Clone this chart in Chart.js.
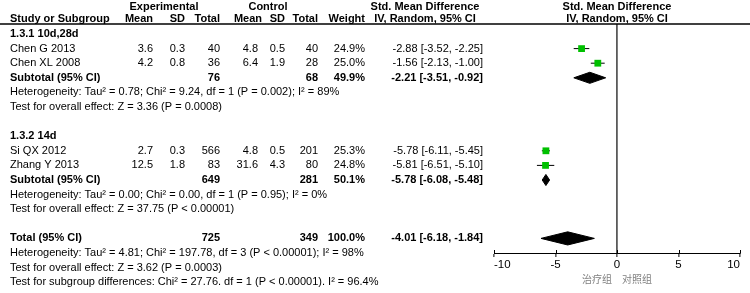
<!DOCTYPE html>
<html>
<head>
<meta charset="utf-8">
<script src="https://cdn.jsdelivr.net/npm/chart.js@4/dist/chart.umd.min.js"></script>
<style>
html, body { margin: 0; padding: 0; background: #fff; }
</style>
</head>
<body>
<canvas id="chart" width="750" height="293"></canvas>
<script>
// individual studies
var studyNames = [ 'Chen G 2013', 'Chen XL 2008', 'Si QX 2012', 'Zhang Y 2013' ];
var studyRows  = [ 1, 2, 8, 9 ];
var expMean    = [ 3.6, 4.2, 2.7, 12.5 ];
var expSD      = [ 0.3, 0.8, 0.3, 1.8 ];
var expN       = [ 40, 36, 566, 83 ];
var ctlMean    = [ 4.8, 6.4, 4.8, 31.6 ];
var ctlSD      = [ 0.5, 1.9, 0.5, 4.3 ];
var ctlN       = [ 40, 28, 201, 80 ];
var weights    = [ 24.9, 25.0, 25.3, 24.8 ];
var smd        = [ -2.88, -1.56, -5.78, -5.81 ];
var smdLo      = [ -3.52, -2.13, -6.11, -6.51 ];
var smdHi      = [ -2.25, -1.00, -5.45, -5.10 ];

// subgroup headings
var groupNames = [ '1.3.1 10d,28d', '1.3.2 14d' ];
var groupRows  = [ 0, 7 ];

// subtotals + total (last entry)
var poolNames   = [ 'Subtotal (95% CI)', 'Subtotal (95% CI)', 'Total (95% CI)' ];
var poolRows    = [ 3, 10, 14 ];
var poolExpN    = [ 76, 649, 725 ];
var poolCtlN    = [ 68, 281, 349 ];
var poolWeights = [ 49.9, 50.1, 100.0 ];
var poolSmd     = [ -2.21, -5.78, -4.01 ];
var poolLo      = [ -3.51, -6.08, -6.18 ];
var poolHi      = [ -0.92, -5.48, -1.84 ];

// footnote lines
var noteRows = [ 4, 5, 11, 12, 15, 16, 17 ];
var noteText = [
    'Heterogeneity: Tau\u00b2 = 0.78; Chi\u00b2 = 9.24, df = 1 (P = 0.002); I\u00b2 = 89%',
    'Test for overall effect: Z = 3.36 (P = 0.0008)',
    'Heterogeneity: Tau\u00b2 = 0.00; Chi\u00b2 = 0.00, df = 1 (P = 0.95); I\u00b2 = 0%',
    'Test for overall effect: Z = 37.75 (P < 0.00001)',
    'Heterogeneity: Tau\u00b2 = 4.81; Chi\u00b2 = 197.78, df = 3 (P < 0.00001); I\u00b2 = 98%',
    'Test for overall effect: Z = 3.62 (P = 0.0003)',
    'Test for subgroup differences: Chi\u00b2 = 27.76. df = 1 (P < 0.00001). I\u00b2 = 96.4%'
];

var xTicks  = [ -10, -5, 0, 5, 10 ];
var xTitle  = '\u6cbb\u7597\u7ec4\u3000\u5bf9\u7167\u7ec4';

var FONT = '"Liberation Sans", Arial, sans-serif';
Chart.defaults.font.family = FONT;

var datasets = [];

// squares first so they sit on top of the whiskers
datasets.push({
    data            : studyRows.map( function( r, i ) { return { x: smd[ i ], y: r }; } ),
    pointStyle      : 'rect',
    pointRadius     : 4.8,
    backgroundColor : '#00c000',
    borderColor     : '#00c000',
    borderWidth     : 0
});

studyRows.forEach( function( r, i ) {
    datasets.push({
        data        : [ { x: smdLo[ i ], y: r }, { x: smdHi[ i ], y: r } ],
        showLine    : true,
        borderColor : '#000',
        borderWidth : 1,
        pointRadius : 0
    });
});

poolRows.forEach( function( r, i ) {
    var h = i == poolRows.length - 1 ? 0.45 : 0.38;
    datasets.push({
        data            : [ { x: poolLo[ i ], y: r }, { x: poolSmd[ i ], y: r - h },
                            { x: poolHi[ i ], y: r }, { x: poolSmd[ i ], y: r + h },
                            { x: poolLo[ i ], y: r } ],
        showLine        : true,
        fill            : 'shape',
        tension         : 0,
        borderColor     : '#000',
        backgroundColor : '#000',
        borderWidth     : 1,
        pointRadius     : 0
    });
});

function fmtCI( m, lo, hi ) {
    return m.toFixed( 2 ) + ' [' + lo.toFixed( 2 ) + ', ' + hi.toFixed( 2 ) + ']';
}

var tablePlugin = {
    id: 'table',
    afterDraw: function( chart ) {
        var ctx = chart.ctx;
        var xs = chart.scales.x;
        var ys = chart.scales.y;
        var zeroX = xs.getPixelForValue( 0 );
        function txt( s, x, y, align, bold ) {
            ctx.font = ( bold ? 'bold ' : '' ) + '11px ' + FONT;
            ctx.textAlign = align;
            ctx.textBaseline = 'middle';
            ctx.fillStyle = '#000';
            ctx.fillText( s, x, y );
        }
        ctx.save();

        // header
        txt( 'Experimental', 164, 7, 'center', true );
        txt( 'Control', 268, 7, 'center', true );
        txt( 'Std. Mean Difference', 425, 7, 'center', true );
        txt( 'Std. Mean Difference', zeroX, 7, 'center', true );
        txt( 'Study or Subgroup', 10, 19, 'left', true );
        txt( 'Mean', 153, 19, 'right', true );
        txt( 'SD', 185, 19, 'right', true );
        txt( 'Total', 220, 19, 'right', true );
        txt( 'Mean', 262, 19, 'right', true );
        txt( 'SD', 285, 19, 'right', true );
        txt( 'Total', 318, 19, 'right', true );
        txt( 'Weight', 365, 19, 'right', true );
        txt( 'IV, Random, 95% CI', 425, 19, 'center', true );
        txt( 'IV, Random, 95% CI', zeroX, 19, 'center', true );

        ctx.strokeStyle = '#000';
        ctx.lineWidth = 1.5;
        ctx.beginPath();
        ctx.moveTo( 0, 24 );
        ctx.lineTo( chart.width, 24 );
        ctx.stroke();

        // tick marks poke a little above the axis line too
        var axisY = chart.chartArea.bottom;
        ctx.lineWidth = 1;
        ctx.beginPath();
        xTicks.forEach( function( v ) {
            var px = Math.round( xs.getPixelForValue( v ) ) + 0.5;
            ctx.moveTo( px, axisY - 3 );
            ctx.lineTo( px, axisY );
        });
        ctx.stroke();

        groupRows.forEach( function( r, i ) {
            txt( groupNames[ i ], 10, ys.getPixelForValue( r ), 'left', true );
        });

        studyRows.forEach( function( r, i ) {
            var y = ys.getPixelForValue( r );
            txt( studyNames[ i ], 10, y, 'left' );
            txt( expMean[ i ].toFixed( 1 ), 153, y, 'right' );
            txt( expSD[ i ].toFixed( 1 ), 185, y, 'right' );
            txt( String( expN[ i ] ), 220, y, 'right' );
            txt( ctlMean[ i ].toFixed( 1 ), 258, y, 'right' );
            txt( ctlSD[ i ].toFixed( 1 ), 285, y, 'right' );
            txt( String( ctlN[ i ] ), 318, y, 'right' );
            txt( weights[ i ].toFixed( 1 ) + '%', 365, y, 'right' );
            txt( fmtCI( smd[ i ], smdLo[ i ], smdHi[ i ] ), 483, y, 'right' );
        });

        poolRows.forEach( function( r, i ) {
            var y = ys.getPixelForValue( r );
            txt( poolNames[ i ], 10, y, 'left', true );
            txt( String( poolExpN[ i ] ), 220, y, 'right', true );
            txt( String( poolCtlN[ i ] ), 318, y, 'right', true );
            txt( poolWeights[ i ].toFixed( 1 ) + '%', 365, y, 'right', true );
            txt( fmtCI( poolSmd[ i ], poolLo[ i ], poolHi[ i ] ), 483, y, 'right', true );
        });

        noteRows.forEach( function( r, i ) {
            txt( noteText[ i ], 10, ys.getPixelForValue( r ), 'left' );
        });
        ctx.restore();
    }
};

new Chart( document.getElementById( 'chart' ), {
    type: 'scatter',
    data: { datasets: datasets },
    plugins: [ tablePlugin ],
    options: {
        responsive : false,
        animation  : false,
        layout     : { padding: { left: 494, right: 10, top: 24, bottom: 0 } },
        plugins    : { legend: { display: false }, tooltip: { enabled: false } },
        scales: {
            x: {
                type     : 'linear',
                position : 'bottom',
                min      : -10,
                max      : 10,
                afterBuildTicks: function( s ) {
                    s.ticks = xTicks.map( function( v ) { return { value: v }; } );
                },
                afterFit : function( s ) { s.height = 40; },
                ticks    : { color: '#000', font: { size: 11.5 }, padding: 1, maxRotation: 0, align: 'inner' },
                grid     : {
                    color: function( c ) {
                        return c.tick && c.tick.value === 0 ? '#5a5a5a' : 'rgba(0,0,0,0)';
                    },
                    lineWidth  : 1.8,
                    tickColor  : '#000',
                    tickWidth  : 1,
                    tickLength : 4
                },
                border   : { display: true, color: '#000', width: 1 },
                title    : {
                    display : true,
                    text    : xTitle,
                    color   : '#808080',
                    font    : { family: '"Noto Sans CJK SC", sans-serif', size: 10 },
                    padding : { top: 0, bottom: 8 }
                }
            },
            y: {
                type    : 'linear',
                display : false,
                reverse : true,
                min     : -0.685,
                max     : 15
            }
        }
    }
});
</script>
</body>
</html>
